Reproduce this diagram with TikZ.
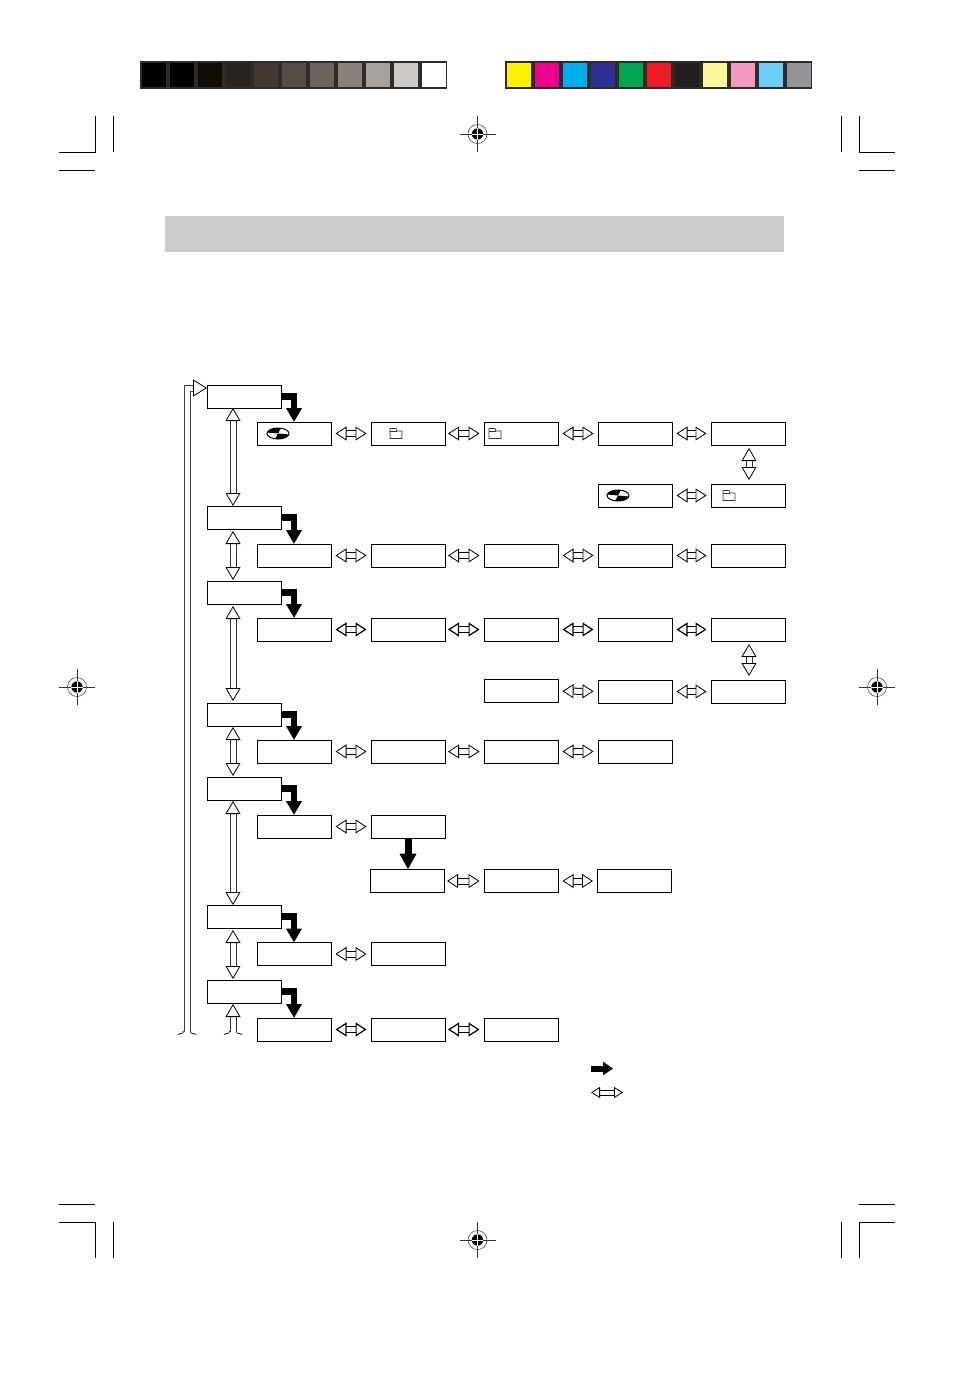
\documentclass[tikz,border=0pt]{standalone}
\usepackage{amsmath}
\usepackage{amssymb}
\usepackage[dvipsnames]{xcolor}
\usetikzlibrary{arrows.meta,calc}

\definecolor{frameline}{HTML}{2F2B29}
\tikzset{
    menu/.style={draw,line width=.8pt,fill=white,minimum width=74pt,minimum height=23pt,inner sep=0pt,outer sep=0pt},
    item/.style={menu},
    swatch/.style={minimum width=24pt,minimum height=24pt,inner sep=0pt,outer sep=0pt},
    strip/.style={draw=frameline,fill=frameline,line width=2pt,minimum width=305pt,minimum height=26pt,inner sep=0pt,outer sep=0pt},
    twoway/.style={draw=black,double=white,double distance=5pt,line width=1pt,
        {Triangle[length=11pt,width=14pt,fill=white,line width=.8pt]}-{Triangle[length=11pt,width=14pt,fill=white,line width=.8pt]},
        shorten <=4.5pt,shorten >=4.5pt},
    twowaybold/.style={draw=black,double=white,double distance=5pt,line width=1.4pt,
        {Triangle[length=11pt,width=14pt,fill=white,line width=1.2pt]}-{Triangle[length=11pt,width=14pt,fill=white,line width=1.2pt]},
        shorten <=4.5pt,shorten >=4.5pt},
    updown/.style={draw=black!80,double=white,double distance=5pt,line width=1pt,
        {Triangle[length=13pt,width=15pt,fill=white,line width=.8pt,color=black]}-{Triangle[length=13pt,width=15pt,fill=white,line width=.8pt,color=black]},
        shorten <=0pt,shorten >=0pt},
    loopback/.style={draw=black!75,double=white,double distance=5pt,line width=1pt,miter limit=10,
        -{Triangle[length=14pt,width=17pt,fill=white,line width=.8pt,color=black]}},
    jump/.style={draw=black,line width=6.5pt,-{Triangle[length=14pt,width=15pt]}},
    jumpdown/.style={draw=black,line width=7pt,-{Triangle[length=16pt,width=16pt]}},
    keyjump/.style={draw=black,line width=6pt,-{Triangle[length=10pt,width=13pt]}},
    cropline/.style={draw=black,line width=.7pt},
    pics/disc/.style={code={
        \draw[line width=1pt,fill=white] (0,0) ellipse (11pt and 5.5pt);
        \fill (0,0) -- (190:11 and 5.5) arc[start angle=190,end angle=285,x radius=11,y radius=5.5] -- cycle;
        \fill (0,0) -- (10:11 and 5.5) arc[start angle=10,end angle=105,x radius=11,y radius=5.5] -- cycle;
    }},
    pics/folder/.style={code={
        \draw[line width=.7pt,draw=black!80] (-6,5) -- (-6,-5) -- (0,-5) -- (1,-2.5) -- (6,-2.5) -- (6,5) -- cycle;
        \draw[line width=.7pt,draw=black!80] (-6,-2.5) -- (1,-2.5);
    }},
    pics/tail/.style={code={
        \draw[line width=.7pt] (-9,2.5) .. controls (-6,.5) and (-3.5,2.5) .. (-3.5,-1);
        \draw[line width=.7pt] (9,2.5) .. controls (6,.5) and (3.5,2.5) .. (3.5,-1);
    }},
    pics/regmark/.style={code={
        \draw[line width=.5pt,black!80] (-18,0) -- (18,0);
        \draw[line width=.5pt,black!80] (0,-18) -- (0,18);
        \draw[line width=.5pt,black!80] (0,0) circle (9.5pt);
        \fill (0,0) circle (5.7pt);
        \draw[line width=.8pt,white] (-5.7,0) -- (5.7,0);
        \draw[line width=.8pt,white] (0,-5.7) -- (0,5.7);
    }},
}

\begin{document}
\begin{tikzpicture}[x=1pt,y=-1pt]
    \useasboundingbox (0,0) rectangle (954,1375);

    % control strips
    \node[strip] (greyStrip) at (293.5,75) {};
    \node[swatch,fill=black] (greyA) at (154,75) {};
    \node[swatch,fill=black] (greyB) at (182,75) {};
    \node[swatch,fill={rgb,255:red,18;green,12;blue,7}] (greyC) at (210,75) {};
    \node[swatch,fill={rgb,255:red,42;green,36;blue,32}] (greyD) at (238,75) {};
    \node[swatch,fill={rgb,255:red,67;green,56;blue,51}] (greyE) at (266,75) {};
    \node[swatch,fill={rgb,255:red,86;green,76;blue,71}] (greyF) at (294,75) {};
    \node[swatch,fill={rgb,255:red,108;green,99;blue,95}] (greyG) at (322,75) {};
    \node[swatch,fill={rgb,255:red,138;green,128;blue,124}] (greyH) at (350,75) {};
    \node[swatch,fill={rgb,255:red,168;green,162;blue,158}] (greyI) at (378,75) {};
    \node[swatch,fill={rgb,255:red,205;green,201;blue,199}] (greyJ) at (406,75) {};
    \node[swatch,fill=white] (greyK) at (434,75) {};

    \node[strip] (inkStrip) at (658.5,75) {};
    \node[swatch,fill={rgb,255:red,255;green,242;blue,0}] (inkA) at (519,75) {};
    \node[swatch,fill={rgb,255:red,236;green,0;blue,140}] (inkB) at (547,75) {};
    \node[swatch,fill={rgb,255:red,0;green,174;blue,239}] (inkC) at (575,75) {};
    \node[swatch,fill={rgb,255:red,46;green,49;blue,146}] (inkD) at (603,75) {};
    \node[swatch,fill={rgb,255:red,0;green,166;blue,81}] (inkE) at (631,75) {};
    \node[swatch,fill={rgb,255:red,237;green,28;blue,36}] (inkF) at (659,75) {};
    \node[swatch,fill={rgb,255:red,35;green,31;blue,32}] (inkG) at (687,75) {};
    \node[swatch,fill={rgb,255:red,255;green,247;blue,153}] (inkH) at (715,75) {};
    \node[swatch,fill={rgb,255:red,244;green,154;blue,193}] (inkI) at (743,75) {};
    \node[swatch,fill={rgb,255:red,109;green,207;blue,246}] (inkJ) at (771,75) {};
    \node[swatch,fill={rgb,255:red,147;green,149;blue,152}] (inkK) at (799,75) {};

    % registration and crop marks
    \pic at (477.5,134) {regmark};
    \pic at (77,687) {regmark};
    \pic at (877,687) {regmark};
    \pic at (477.5,1240) {regmark};

    \draw[cropline] (59,152) -- (95,152) -- (95,116);
    \draw[cropline] (113.5,116) -- (113.5,152);
    \draw[cropline] (59,170) -- (95,170);
    \draw[cropline] (895,152) -- (859,152) -- (859,116);
    \draw[cropline] (841.5,116) -- (841.5,152);
    \draw[cropline] (859,170) -- (895,170);
    \draw[cropline] (59,1204) -- (95,1204);
    \draw[cropline] (59,1222) -- (95,1222) -- (95,1258);
    \draw[cropline] (113.5,1222) -- (113.5,1258);
    \draw[cropline] (859,1204) -- (895,1204);
    \draw[cropline] (895,1222) -- (859,1222) -- (859,1258);
    \draw[cropline] (841.5,1222) -- (841.5,1258);

    % title band
    \node[fill={rgb,255:red,204;green,204;blue,204},minimum width=619pt,minimum height=36pt,inner sep=0pt] (titleBand) at (474.5,234) {};

    % left column
    \node[menu] (menuA) at (244,396.5) {};
    \node[menu] (menuB) at (244,517.5) {};
    \node[menu] (menuC) at (244,592.5) {};
    \node[menu] (menuD) at (244,714.5) {};
    \node[menu] (menuE) at (244,788.5) {};
    \node[menu] (menuF) at (244,916.5) {};
    \node[menu] (menuG) at (244,991.5) {};

    % entries of each row
    \node[item] (subAa) at (294,433.5) {};
    \node[item] (subAb) at (408,433.5) {};
    \node[item] (subAc) at (521,433.5) {};
    \node[item] (subAd) at (635,433.5) {};
    \node[item] (subAe) at (748,433.5) {};
    \node[item] (subAf) at (635,495.5) {};
    \node[item] (subAg) at (748,495.5) {};

    \node[item] (subBa) at (294,555.5) {};
    \node[item] (subBb) at (408,555.5) {};
    \node[item] (subBc) at (521,555.5) {};
    \node[item] (subBd) at (635,555.5) {};
    \node[item] (subBe) at (748,555.5) {};

    \node[item] (subCa) at (294,629.5) {};
    \node[item] (subCb) at (408,629.5) {};
    \node[item] (subCc) at (521,629.5) {};
    \node[item] (subCd) at (635,629.5) {};
    \node[item] (subCe) at (748,629.5) {};
    \node[item] (subCf) at (521,691) {};
    \node[item] (subCg) at (635,691.5) {};
    \node[item] (subCh) at (748,691.5) {};

    \node[item] (subDa) at (294,751.5) {};
    \node[item] (subDb) at (408,751.5) {};
    \node[item] (subDc) at (521,751.5) {};
    \node[item] (subDd) at (635,751.5) {};

    \node[item] (subEa) at (294,826.5) {};
    \node[item] (subEb) at (408,826.5) {};
    \node[item] (subEc) at (407,881) {};
    \node[item] (subEd) at (521,881) {};
    \node[item] (subEe) at (634.5,881) {};

    \node[item] (subFa) at (294,954) {};
    \node[item] (subFb) at (408,954) {};

    \node[item] (subGa) at (294,1029.5) {};
    \node[item] (subGb) at (408,1029.5) {};
    \node[item] (subGc) at (521,1029.5) {};

    % icons
    \pic at ([xshift=-16pt]subAa.center) {disc};
    \pic at ([xshift=-12pt]subAb.center) {folder};
    \pic at ([xshift=-26pt]subAc.center) {folder};
    \pic at ([xshift=-17pt]subAf.center) {disc};
    \pic at ([xshift=-19pt]subAg.center) {folder};

    % menu to first entry
    \draw[jump] (menuA.east) -| (subAa.north);
    \draw[jump] (menuB.east) -| (subBa.north);
    \draw[jump] (menuC.east) -| (subCa.north);
    \draw[jump] (menuD.east) -| (subDa.north);
    \draw[jump] (menuE.east) -| (subEa.north);
    \draw[jump] (menuF.east) -| (subFa.north);
    \draw[jump] (menuG.east) -| (subGa.north);
    \draw[jumpdown] (subEb.south) -- (subEb.south |- subEc.north);

    % between menus
    \draw[updown] ([xshift=-11pt]menuA.south) -- ([xshift=-11pt]menuB.north);
    \draw[updown,shorten <=2pt,shorten >=1pt] ([xshift=-11pt]menuB.south) -- ([xshift=-11pt]menuC.north);
    \draw[updown,shorten <=2pt,shorten >=2pt] ([xshift=-11pt]menuC.south) -- ([xshift=-11pt]menuD.north);
    \draw[updown,shorten <=1pt,shorten >=1pt] ([xshift=-11pt]menuD.south) -- ([xshift=-11pt]menuE.north);
    \draw[updown,shorten <=1pt] ([xshift=-11pt]menuE.south) -- ([xshift=-11pt]menuF.north);
    \draw[updown,shorten <=2pt,shorten >=1pt] ([xshift=-11pt]menuF.south) -- ([xshift=-11pt]menuG.north);

    % along each row
    \draw[twoway] (subAa) -- (subAb);
    \draw[twoway,shorten <=3pt] (subAb) -- (subAc);
    \draw[twoway] (subAc) -- (subAd);
    \draw[twoway] (subAd) -- (subAe);
    \draw[updown,shorten <=3pt,shorten >=4pt] ([xshift=1pt]subAe.south) -- ([xshift=1pt]subAg.north);
    \draw[twoway] (subAf) -- (subAg);

    \draw[twoway] (subBa) -- (subBb);
    \draw[twoway,shorten <=3pt] (subBb) -- (subBc);
    \draw[twoway] (subBc) -- (subBd);
    \draw[twoway] (subBd) -- (subBe);

    \draw[twowaybold] (subCa) -- (subCb);
    \draw[twowaybold,shorten <=3pt] (subCb) -- (subCc);
    \draw[twowaybold] (subCc) -- (subCd);
    \draw[twowaybold] (subCd) -- (subCe);
    \draw[updown,shorten <=3pt,shorten >=4pt] ([xshift=1pt]subCe.south) -- ([xshift=1pt]subCh.north);
    \draw[twoway] (subCf) -- (subCg);
    \draw[twoway] (subCg) -- (subCh);

    \draw[twoway] (subDa) -- (subDb);
    \draw[twoway,shorten <=3pt] (subDb) -- (subDc);
    \draw[twoway] (subDc) -- (subDd);

    \draw[twoway] (subEa) -- (subEb);
    \draw[twoway,shorten <=3pt] (subEc) -- (subEd);
    \draw[twoway] (subEd) -- (subEe);

    \draw[twoway] (subFa) -- (subFb);

    \draw[twowaybold] (subGa) -- (subGb);
    \draw[twowaybold,shorten <=3pt] (subGb) -- (subGc);

    % open ends at the bottom
    \coordinate (returnIn) at (207,388);
    \coordinate (returnFoot) at (187,1032);
    \coordinate (stayFoot) at (233,1032);
    \draw[loopback] (returnFoot) |- (returnIn);
    \pic at (returnFoot) {tail};
    \draw[updown,-{Triangle[length=13pt,width=15pt,fill=white,line width=.8pt,color=black]},shorten >=1pt] (stayFoot) -- ([xshift=-11pt]menuG.south);
    \pic at (stayFoot) {tail};

    % key
    \coordinate (keyJumpA) at (591,1068.5);
    \coordinate (keyJumpB) at (613,1068.5);
    \coordinate (keyWayA) at (591,1092.5);
    \coordinate (keyWayB) at (623,1092.5);
    \draw[keyjump] (keyJumpA) -- (keyJumpB);
    \draw[twoway,shorten <=0pt,shorten >=0pt,double distance=4pt,{Triangle[length=9pt,width=11pt,fill=white,line width=.8pt]}-{Triangle[length=9pt,width=11pt,fill=white,line width=.8pt]}] (keyWayA) -- (keyWayB);
\end{tikzpicture}
\end{document}
